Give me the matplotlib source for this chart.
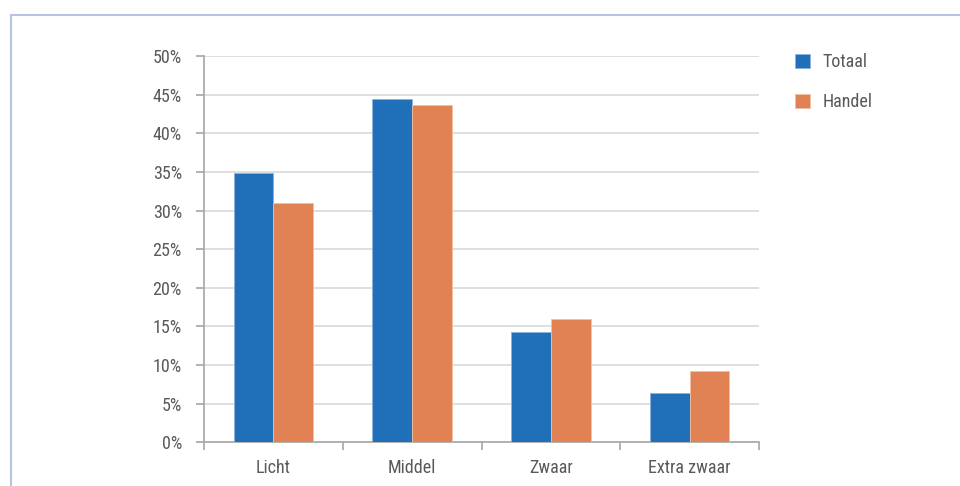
import matplotlib
matplotlib.use("Agg")
import matplotlib.pyplot as plt
import numpy as np
from matplotlib.patches import Rectangle
from matplotlib.ticker import FuncFormatter
from matplotlib import font_manager

categories = ["Licht", "Middel", "Zwaar", "Extra zwaar"]
totaal = [34.8, 44.4, 14.3, 6.4]
handel = [31.0, 43.6, 16.0, 9.2]
series_names = ["Totaal", "Handel"]
colors = ["#1F70B8", "#E08253"]

available = {f.name for f in font_manager.fontManager.ttflist}
family = "DejaVu Sans"
for cand in ["Liberation Sans Narrow", "Roboto Condensed", "Open Sans Condensed", "Roboto", "Liberation Sans"]:
    if cand in available:
        family = cand
        break
plt.rcParams['font.family'] = [family, 'DejaVu Sans']
txt = "#595959"
fs = 13 if "Narrow" in family or "Condensed" in family else 12.5

fig = plt.figure(figsize=(9.6, 4.86), dpi=100)
# outer border (extends beyond the image right and bottom)
fig.patches.append(Rectangle((11/960, -0.1), 1.2, (486-15)/486 + 0.1,
                             transform=fig.transFigure, fill=False,
                             edgecolor="#B4C4E2", linewidth=1.5))

ax = fig.add_axes([204/960, (486-442.3)/486, (759-204)/960, (442.3-56)/486])

x = np.arange(len(categories))
w = 1/3.5
ax.bar(x - w/2, totaal, w, color=colors[0], edgecolor="#8fb3dc", linewidth=0.6, label=series_names[0], zorder=3)
ax.bar(x + w/2, handel, w, color=colors[1], edgecolor="#f0c0a5", linewidth=0.6, label=series_names[1], zorder=3)

ax.set_xlim(-0.5, len(categories) - 0.5)
ax.set_ylim(0, 50)
ax.set_yticks(np.arange(0, 51, 5))
ax.yaxis.set_major_formatter(FuncFormatter(lambda v, p: f"{int(v)}%"))
ax.grid(axis='y', color="#D9D9D9", linewidth=1.2, zorder=0)
ax.set_axisbelow(True)

ax.set_xticks(np.arange(-0.5, len(categories), 1.0))
ax.set_xticklabels([])
ax.set_xticks(x, minor=True)
ax.set_xticklabels(categories, minor=True)
ax.tick_params(axis='x', which='major', length=6, color="#A6A6A6", width=1.2, direction='out')
ax.tick_params(axis='x', which='minor', length=0, pad=12, labelsize=fs, labelcolor=txt)
ax.tick_params(axis='y', length=6, color="#A6A6A6", width=1.2, pad=10, labelsize=fs, labelcolor=txt)

for s in ["top", "right"]:
    ax.spines[s].set_visible(False)
for s in ["left", "bottom"]:
    ax.spines[s].set_color("#A6A6A6")
    ax.spines[s].set_linewidth(1.2)

leg = fig.legend(loc="upper left", bbox_to_anchor=(779/960, 1 - 37/486), frameon=False,
                 fontsize=fs, labelcolor=txt, handlelength=0.8, handleheight=0.8,
                 handletextpad=0.7, labelspacing=1.2)

fig.savefig("out.png", dpi=100)
